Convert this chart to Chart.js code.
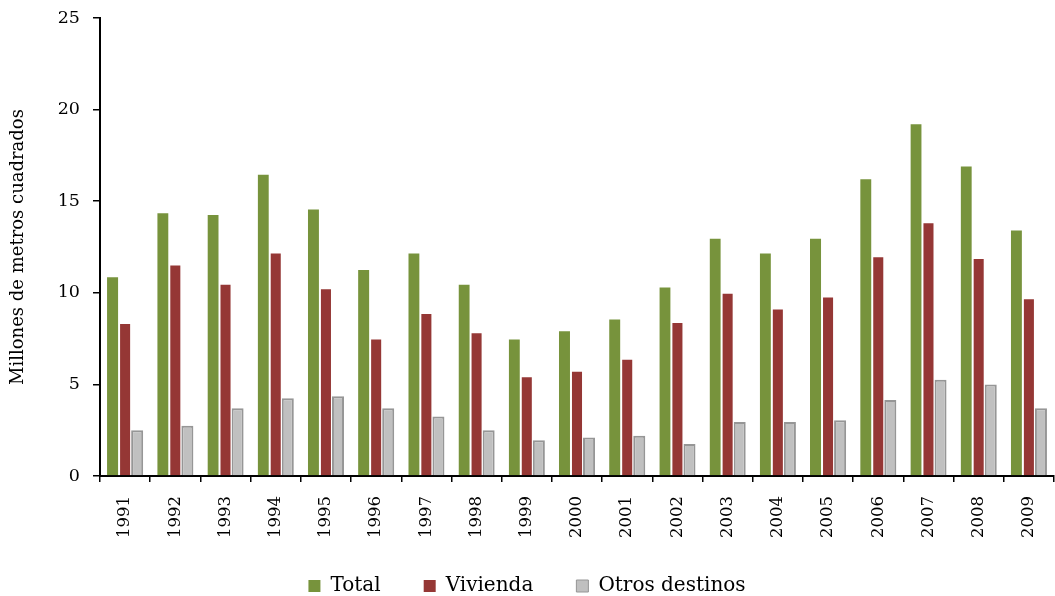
<!DOCTYPE html>
<html>
<head>
<meta charset="utf-8">
<script src="https://cdn.jsdelivr.net/npm/chart.js@4/dist/chart.umd.min.js"></script>
<style>
html,body{margin:0;padding:0;background:#fff;}
#wrap{width:1055px;height:596px;position:relative;}
</style>
</head>
<body>
<div id="wrap"><canvas id="c" width="1055" height="596"></canvas></div>
<script>
const years = ["1991","1992","1993","1994","1995","1996","1997","1998","1999","2000","2001","2002","2003","2004","2005","2006","2007","2008","2009"];
const total    = [10.9,14.4,14.3,16.5,14.6,11.3,12.2,10.5,7.5,7.95,8.6,10.35,13.0,12.2,13.0,16.25,19.25,16.95,13.45];
const vivienda = [8.35,11.55,10.5,12.2,10.25,7.5,8.9,7.85,5.45,5.75,6.4,8.4,10.0,9.15,9.8,12.0,13.85,11.9,9.7];
const otros    = [2.5,2.75,3.7,4.25,4.35,3.7,3.25,2.5,1.95,2.1,2.2,1.75,2.95,2.95,3.05,4.15,5.25,5.0,3.7];
const yTicks = [0,5,10,15,20,25];
const seriesNames = ["Total","Vivienda","Otros destinos"];

const serif = "'DejaVu Serif', 'Liberation Serif', serif";

new Chart(document.getElementById('c'), {
  type: 'bar',
  data: {
    labels: years,
    datasets: [
      {label: seriesNames[0], data: total, backgroundColor: '#77933C', borderColor: '#ffffff', borderWidth: {top:1,right:1,left:0,bottom:0}, borderSkipped: 'bottom'},
      {label: seriesNames[1], data: vivienda, backgroundColor: '#953735', borderColor: '#ffffff', borderWidth: {top:1,right:1,left:1,bottom:0}, borderSkipped: 'bottom'},
      {label: seriesNames[2], data: otros, backgroundColor: '#C0C0C0', borderColor: '#969696', borderWidth: {top:2,right:2,left:2,bottom:0}, borderSkipped: 'bottom'}
    ]
  },
  options: {
    responsive: false,
    animation: false,
    devicePixelRatio: 1,
    layout: {padding: {top: 18, right: 1, left: 0, bottom: -10}},
    datasets: {bar: {categoryPercentage: 0.72, barPercentage: 1.0}},
    plugins: {
      tooltip: {enabled: false},
      legend: {
        position: 'bottom',
        labels: {
          boxWidth: 12, boxHeight: 12, padding: 24,
          color: '#000',
          font: {family: serif, size: 20},
          generateLabels(chart) {
            const n = chart.data.datasets.length;
            return chart.data.datasets.map((ds, i) => ({
              text: i < n - 1 ? ds.label + '   ' : ds.label,
              fillStyle: ds.backgroundColor,
              strokeStyle: i === 2 ? '#969696' : ds.backgroundColor,
              lineWidth: i === 2 ? 1 : 0,
              datasetIndex: i,
              hidden: false
            }));
          }
        }
      }
    },
    scales: {
      x: {
        afterFit(axis) { axis.paddingLeft = 0; axis.paddingRight = 0; },
        border: {display: true, color: '#000', width: 2},
        grid: {display: true, drawOnChartArea: false, drawTicks: true, tickLength: 6, color: '#000', lineWidth: 1.5, offset: true},
        ticks: {color: '#000', font: {family: serif, size: 16.5}, maxRotation: 90, minRotation: 90, padding: 14}
      },
      y: {
        min: 0, max: 25,
        afterFit(axis) { axis.width = 100; axis.paddingTop = 0; axis.paddingBottom = 0; },
        afterBuildTicks(axis) { axis.ticks = yTicks.map(v => ({value: v})); },
        border: {display: true, color: '#000', width: 2},
        grid: {display: true, drawOnChartArea: false, drawTicks: true, tickLength: 7, color: '#000', lineWidth: 1.5},
        ticks: {color: '#000', font: {family: serif, size: 17.5}, padding: 13},
        title: {display: true, text: 'Millones de metros cuadrados', color: '#000', font: {family: serif, size: 18}, padding: {top: 8, bottom: 6}}
      }
    }
  }
});
</script>
</body>
</html>
